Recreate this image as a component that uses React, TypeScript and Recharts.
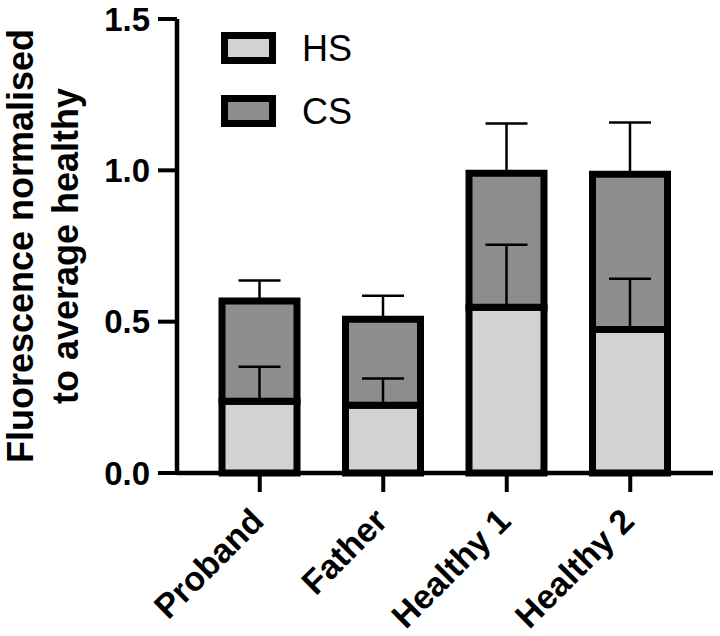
import { Bar, BarChart, ErrorBar, Legend, XAxis, YAxis } from "recharts";

const SUBJECTS = ["Proband", "Father", "Healthy 1", "Healthy 2"];
const HS = [0.237, 0.224, 0.548, 0.474];
const CS = [0.331, 0.284, 0.442, 0.513]; // stacked on top of HS
const HS_SD = [0.114, 0.088, 0.206, 0.168];
const TOTAL_SD = [0.068, 0.078, 0.165, 0.171];
const Y_TICKS = [0, 0.5, 1, 1.5];

const HS_FILL = "#d2d2d2";
const CS_FILL = "#8d8d8d";
const FONT = "'Liberation Sans', Arial, Helvetica, sans-serif";

const data = SUBJECTS.map((name, i) => ({
  name,
  hs: HS[i],
  cs: CS[i],
  hsErr: [0, HS_SD[i]],
  totalErr: [0, TOTAL_SD[i]],
}));

function XTick(props: { x?: number; y?: number; payload?: { value: string } }) {
  const { x = 0, y = 0, payload } = props;
  const ax = x + 6;
  const ay = y + 29;
  return (
    <text
      x={ax}
      y={ay}
      transform={`rotate(-45, ${ax}, ${ay})`}
      textAnchor="end"
      fontFamily={FONT}
      fontWeight="bold"
      fontSize={34}
      fill="#000"
    >
      {payload?.value}
    </text>
  );
}

function YLabel() {
  return (
    <g fontFamily={FONT} fontWeight="bold" fontSize={36} fill="#000">
      <text x={33} y={246} transform="rotate(-90, 33, 246)" textAnchor="middle">
        Fluorescence normalised
      </text>
      <text x={78} y={246} transform="rotate(-90, 78, 246)" textAnchor="middle">
        to average healthy
      </text>
    </g>
  );
}

function LegendBox() {
  const items = [
    { label: "HS", fill: HS_FILL },
    { label: "CS", fill: CS_FILL },
  ];
  return (
    <svg width={160} height={100} style={{ overflow: "visible" }}>
      {items.map((it, i) => (
        <g key={it.label} transform={`translate(0, ${i * 63})`}>
          <rect x={3.5} y={3.5} width={48} height={25} fill={it.fill} stroke="#000" strokeWidth={7} />
          <text x={81} y={29} fontFamily={FONT} fontSize={36} fill="#000">
            {it.label}
          </text>
        </g>
      ))}
    </svg>
  );
}

export default function App() {
  return (
    <div style={{ position: "absolute", left: 0, top: 0, background: "#fff" }}>
      <BarChart
        width={720}
        height={636}
        data={data}
        margin={{ top: 19, right: 7, left: 0, bottom: 0 }}
      >
        <XAxis
          dataKey="name"
          height={163}
          padding={{ left: 21, right: 21 }}
          axisLine={{ stroke: "#000", strokeWidth: 4.5 }}
          tickLine={{ stroke: "#000", strokeWidth: 4 }}
          tickSize={19}
          tick={<XTick />}
          interval={0}
        />
        <XAxis xAxisId="overlay" dataKey="name" hide padding={{ left: 21, right: 21 }} />
        <YAxis
          width={177}
          domain={[0, 1.5]}
          ticks={Y_TICKS}
          tickFormatter={(v: number) => v.toFixed(1)}
          axisLine={{ stroke: "#000", strokeWidth: 4.5 }}
          tickLine={{ stroke: "#000", strokeWidth: 4 }}
          tickSize={19}
          tickMargin={8}
          tick={{ fill: "#000", fontSize: 33, fontWeight: "bold", fontFamily: FONT }}
          label={{ content: <YLabel /> }}
        />
        <Legend
          layout="vertical"
          align="center"
          verticalAlign="middle"
          content={<LegendBox />}
          wrapperStyle={{ position: "absolute", left: 221, top: 32, width: 160, height: 100 }}
        />
        <Bar
          dataKey="hs"
          stackId="s"
          barSize={75}
          fill={HS_FILL}
          stroke="#000"
          strokeWidth={7}
          isAnimationActive={false}
        />
        <Bar
          dataKey="cs"
          stackId="s"
          barSize={75}
          fill={CS_FILL}
          stroke="#000"
          strokeWidth={7}
          isAnimationActive={false}
        >
          <ErrorBar dataKey="totalErr" width={21} stroke="#000" strokeWidth={2.5} direction="y" />
        </Bar>
        {/* overlay so the HS error bar sits above the CS fill */}
        <Bar
          dataKey="hs"
          xAxisId="overlay"
          barSize={75}
          fill="none"
          stroke="none"
          legendType="none"
          isAnimationActive={false}
        >
          <ErrorBar dataKey="hsErr" width={21} stroke="#000" strokeWidth={2.5} direction="y" />
        </Bar>
      </BarChart>
    </div>
  );
}
